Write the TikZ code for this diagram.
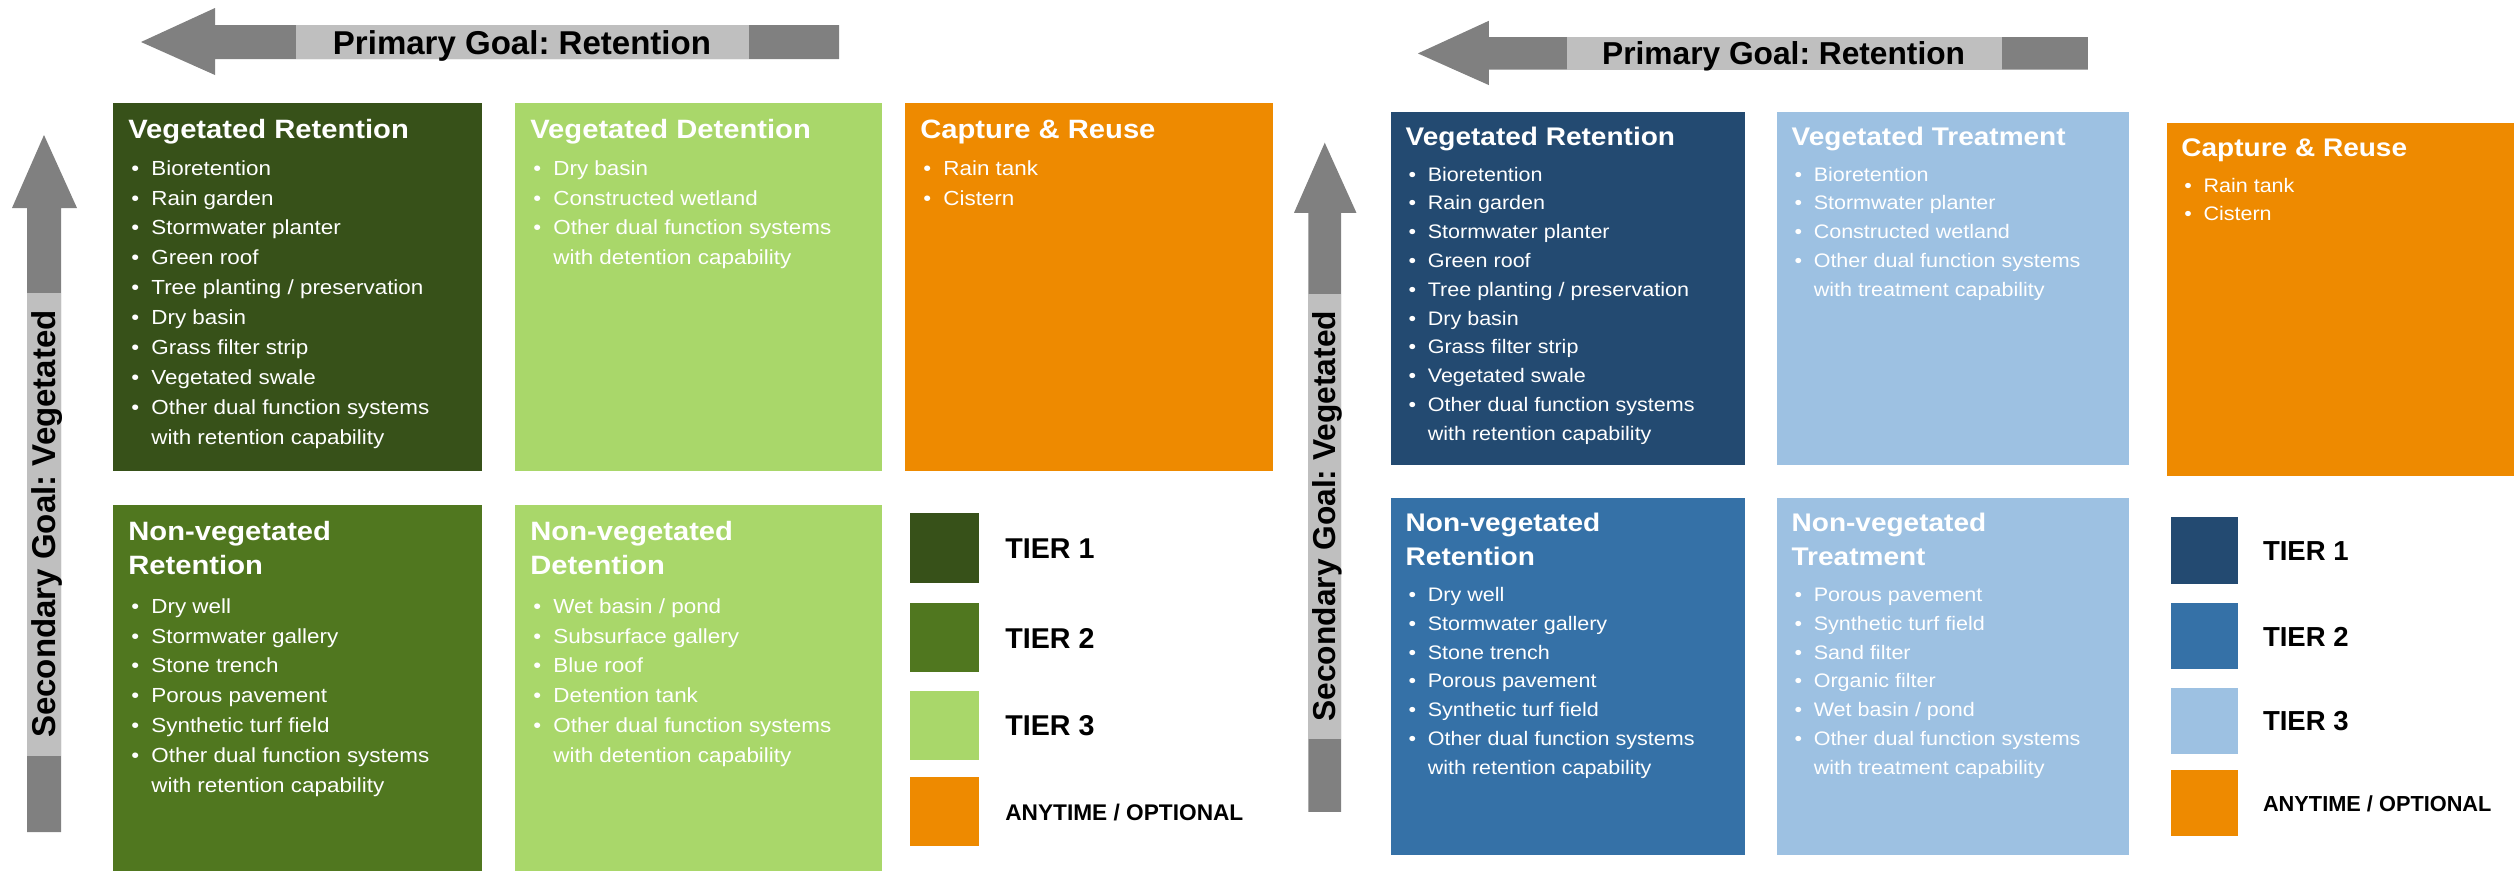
\documentclass[tikz,border=0pt]{standalone}
\usepackage{fontspec}
\setmainfont{Liberation Sans}
\newfontfamily\boxfont[FakeStretch=1.1]{Liberation Sans}
\usepackage{tikz}
\frenchspacing
\definecolor{arrowdark}{RGB}{128,128,128}
\definecolor{arrowlight}{RGB}{191,191,191}
\definecolor{greenA}{RGB}{55,81,25}
\definecolor{greenB}{RGB}{80,119,31}
\definecolor{greenC}{RGB}{169,215,106}
\definecolor{blueA}{RGB}{35,74,113}
\definecolor{blueB}{RGB}{53,113,167}
\definecolor{blueC}{RGB}{157,193,226}
\definecolor{reuse}{RGB}{238,138,0}
\newcommand{\bul}{\makebox[11.4pt][l]{\textbullet}}
\newcommand{\cnt}{\hspace*{11.4pt}}
\newcommand{\lst}[1]{\begin{tabular}[t]{@{}l@{}}#1\end{tabular}}
\tikzstyle{every node}=[inner sep=0pt, text=white]
\tikzstyle{boxtitle}=[anchor=base west, font=\boxfont\bfseries\fontsize{15.1}{19.9}\selectfont]
\tikzstyle{boxlist}=[anchor=base west, font=\boxfont\fontsize{11.6}{17.07}\selectfont]
\tikzstyle{goal}=[anchor=base, text=black, font=\bfseries\fontsize{18.8}{22}\selectfont]
\tikzstyle{tier}=[anchor=west, text=black, font=\bfseries\fontsize{16.3}{19}\selectfont]
\tikzstyle{anytime}=[tier, font=\bfseries\fontsize{12.9}{15}\selectfont]

\begin{document}
\begin{tikzpicture}[x=0.02cm, y=-0.02cm]
\useasboundingbox (0,0) rectangle (2514,870);
\clip (0,0) rectangle (2514,870);

% green panel
\fill[arrowdark] (141,42) -- (215,8) -- (215,25) -- (839,25) -- (839,59) -- (215,59) -- (215,75) -- cycle;
\fill[arrowlight] (296,25) rectangle (749,59);
\node[goal] (pg1) at (522,54) {Primary Goal: Retention};
\fill[arrowdark] (44,135) -- (77,208) -- (61,208) -- (61,832) -- (27,832) -- (27,208) -- (12,208) -- cycle;
\fill[arrowlight] (27,293) rectangle (61,756);
\node[goal, rotate=90] (sg1) at (55,524) {Secondary Goal: Vegetated};

\fill[greenA] (113,103) rectangle (482,471);
\fill[greenC] (515,103) rectangle (882,471);
\fill[reuse] (905,103) rectangle (1273,471);
\fill[greenB] (113,505) rectangle (482,877);
\fill[greenC] (515,505) rectangle (882,877);

\node[boxtitle] (vr1) at (128,138) {Vegetated Retention};
\node[boxlist] (vr1l) at (131,175) {\lst{\bul Bioretention\\ \bul Rain garden\\ \bul Stormwater planter\\
  \bul Green roof\\ \bul Tree planting / preservation\\ \bul Dry basin\\ \bul Grass filter strip\\
  \bul Vegetated swale\\ \bul Other dual function systems\\ \cnt with retention capability}};
\node[boxtitle] (vd1) at (530,138) {Vegetated Detention};
\node[boxlist] (vd1l) at (533,175) {\lst{\bul Dry basin\\ \bul Constructed wetland\\
  \bul Other dual function systems\\ \cnt with detention capability}};
\node[boxtitle] (cr1) at (920,138) {Capture \& Reuse};
\node[boxlist] (cr1l) at (923,175) {\lst{\bul Rain tank\\ \bul Cistern}};
\node[boxtitle] (nr1) at (128,540) {\lst{Non-vegetated\\ Retention}};
\node[boxlist] (nr1l) at (131,613) {\lst{\bul Dry well\\ \bul Stormwater gallery\\ \bul Stone trench\\
  \bul Porous pavement\\ \bul Synthetic turf field\\ \bul Other dual function systems\\ \cnt with retention capability}};
\node[boxtitle] (nd1) at (530,540) {\lst{Non-vegetated\\ Detention}};
\node[boxlist] (nd1l) at (533,613) {\lst{\bul Wet basin / pond\\ \bul Subsurface gallery\\ \bul Blue roof\\
  \bul Detention tank\\ \bul Other dual function systems\\ \cnt with detention capability}};

\fill[greenA] (910,513) rectangle (979,583);
\fill[greenB] (910,603) rectangle (979,672);
\fill[greenC] (910,691) rectangle (979,760);
\fill[reuse] (910,777) rectangle (979,846);
\node[tier] (t1) at (1005,549) {TIER 1};
\node[tier] (t2) at (1005,638) {TIER 2};
\node[tier] (t3) at (1005,726) {TIER 3};
\node[anytime] (t4) at (1005,812) {ANYTIME / OPTIONAL};

% blue panel
\begin{scope}[shift={(1282.5,13.1)}, scale=0.96, transform shape]
\fill[arrowdark] (141,42) -- (215,8) -- (215,25) -- (839,25) -- (839,59) -- (215,59) -- (215,75) -- cycle;
\fill[arrowlight] (296,25) rectangle (749,59);
\node[goal] (pg2) at (522,54) {Primary Goal: Retention};
\fill[arrowdark] (44,135) -- (77,208) -- (61,208) -- (61,832) -- (27,832) -- (27,208) -- (12,208) -- cycle;
\fill[arrowlight] (27,293) rectangle (61,756);
\node[goal, rotate=90] (sg2) at (55,524) {Secondary Goal: Vegetated};

\fill[blueA] (113,103) rectangle (482,471);
\fill[blueC] (515,103) rectangle (882,471);
\fill[blueB] (113,505) rectangle (482,877);
\fill[blueC] (515,505) rectangle (882,877);

\node[boxtitle] (vr2) at (128,138) {Vegetated Retention};
\node[boxlist] (vr2l) at (131,175) {\lst{\bul Bioretention\\ \bul Rain garden\\ \bul Stormwater planter\\
  \bul Green roof\\ \bul Tree planting / preservation\\ \bul Dry basin\\ \bul Grass filter strip\\
  \bul Vegetated swale\\ \bul Other dual function systems\\ \cnt with retention capability}};
\node[boxtitle] (vt2) at (530,138) {Vegetated Treatment};
\node[boxlist] (vt2l) at (533,175) {\lst{\bul Bioretention\\ \bul Stormwater planter\\ \bul Constructed wetland\\
  \bul Other dual function systems\\ \cnt with treatment capability}};
\node[boxtitle] (nr2) at (128,540) {\lst{Non-vegetated\\ Retention}};
\node[boxlist] (nr2l) at (131,613) {\lst{\bul Dry well\\ \bul Stormwater gallery\\ \bul Stone trench\\
  \bul Porous pavement\\ \bul Synthetic turf field\\ \bul Other dual function systems\\ \cnt with retention capability}};
\node[boxtitle] (nt2) at (530,540) {\lst{Non-vegetated\\ Treatment}};
\node[boxlist] (nt2l) at (533,613) {\lst{\bul Porous pavement\\ \bul Synthetic turf field\\ \bul Sand filter\\
  \bul Organic filter\\ \bul Wet basin / pond\\ \bul Other dual function systems\\ \cnt with treatment capability}};

\begin{scope}[shift={(16,11.5)}]
\fill[reuse] (905,103) rectangle (1273,471);
\node[boxtitle] (cr2) at (920,138) {Capture \& Reuse};
\node[boxlist] (cr2l) at (923,175) {\lst{\bul Rain tank\\ \bul Cistern}};
\fill[blueA] (910,513) rectangle (979,583);
\fill[blueB] (910,603) rectangle (979,672);
\fill[blueC] (910,691) rectangle (979,760);
\fill[reuse] (910,777) rectangle (979,846);
\node[tier] (u1) at (1005,549) {TIER 1};
\node[tier] (u2) at (1005,638) {TIER 2};
\node[tier] (u3) at (1005,726) {TIER 3};
\node[anytime] (u4) at (1005,812) {ANYTIME / OPTIONAL};
\end{scope}
\end{scope}
\end{tikzpicture}
\end{document}
